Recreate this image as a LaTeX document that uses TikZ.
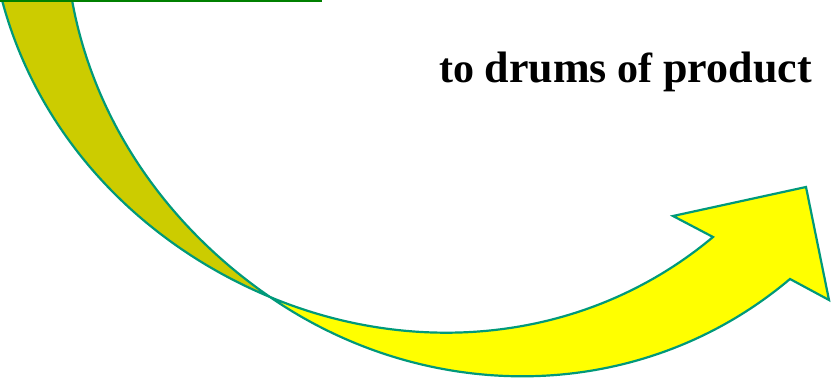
\documentclass[tikz,border=0pt]{standalone}
\usepackage{fontspec}
\setmainfont{Liberation Serif}
\usetikzlibrary{calc}
\definecolor{backside}{RGB}{204,204,0}
\definecolor{frontside}{RGB}{255,255,0}
\definecolor{rim}{RGB}{0,153,122}
\definecolor{bar}{RGB}{0,128,0}
\newcommand{\smallw}[1]{{\fontsize{42}{46}\selectfont #1}}
\newcommand{\bigw}[1]{{\fontsize{44}{48}\selectfont #1}}

\begin{document}
\begin{tikzpicture}[x=1pt, y=-1pt, line join=miter, rimline/.style={draw=rim, line width=2.2pt}]
    \useasboundingbox (0,0) rectangle (833,382);
    \coordinate (U) at (2,0);
    \coordinate (L) at (72,0);
    \coordinate (X) at (270,297);
    \coordinate (N) at (713,237);
    \coordinate (M) at (790,279);
    \coordinate (P) at (673,216);
    \coordinate (T) at (806,187);
    \coordinate (Q) at (829,300);
    % back of the band
    \draw[rimline, fill=backside] (U)
        .. controls (38,136) and (140,243) .. (X)
        .. controls (168,227) and (94,122) .. (L)
        -- cycle;
    % front of the band with the head
    \draw[rimline, fill=frontside] (X)
        .. controls (419,359) and (589,341) .. (N)
        -- (P) -- (T) -- (Q) -- (M)
        .. controls (642,404) and (430,407) .. (X)
        -- cycle;
    \draw[bar, line width=2pt] (0,1) -- (322,1);
    \node[anchor=base east, inner sep=0pt, font=\bfseries] (label) at (812,83)
        {\smallw{to }\bigw{drums }\smallw{of }\bigw{product}};
\end{tikzpicture}
\end{document}
